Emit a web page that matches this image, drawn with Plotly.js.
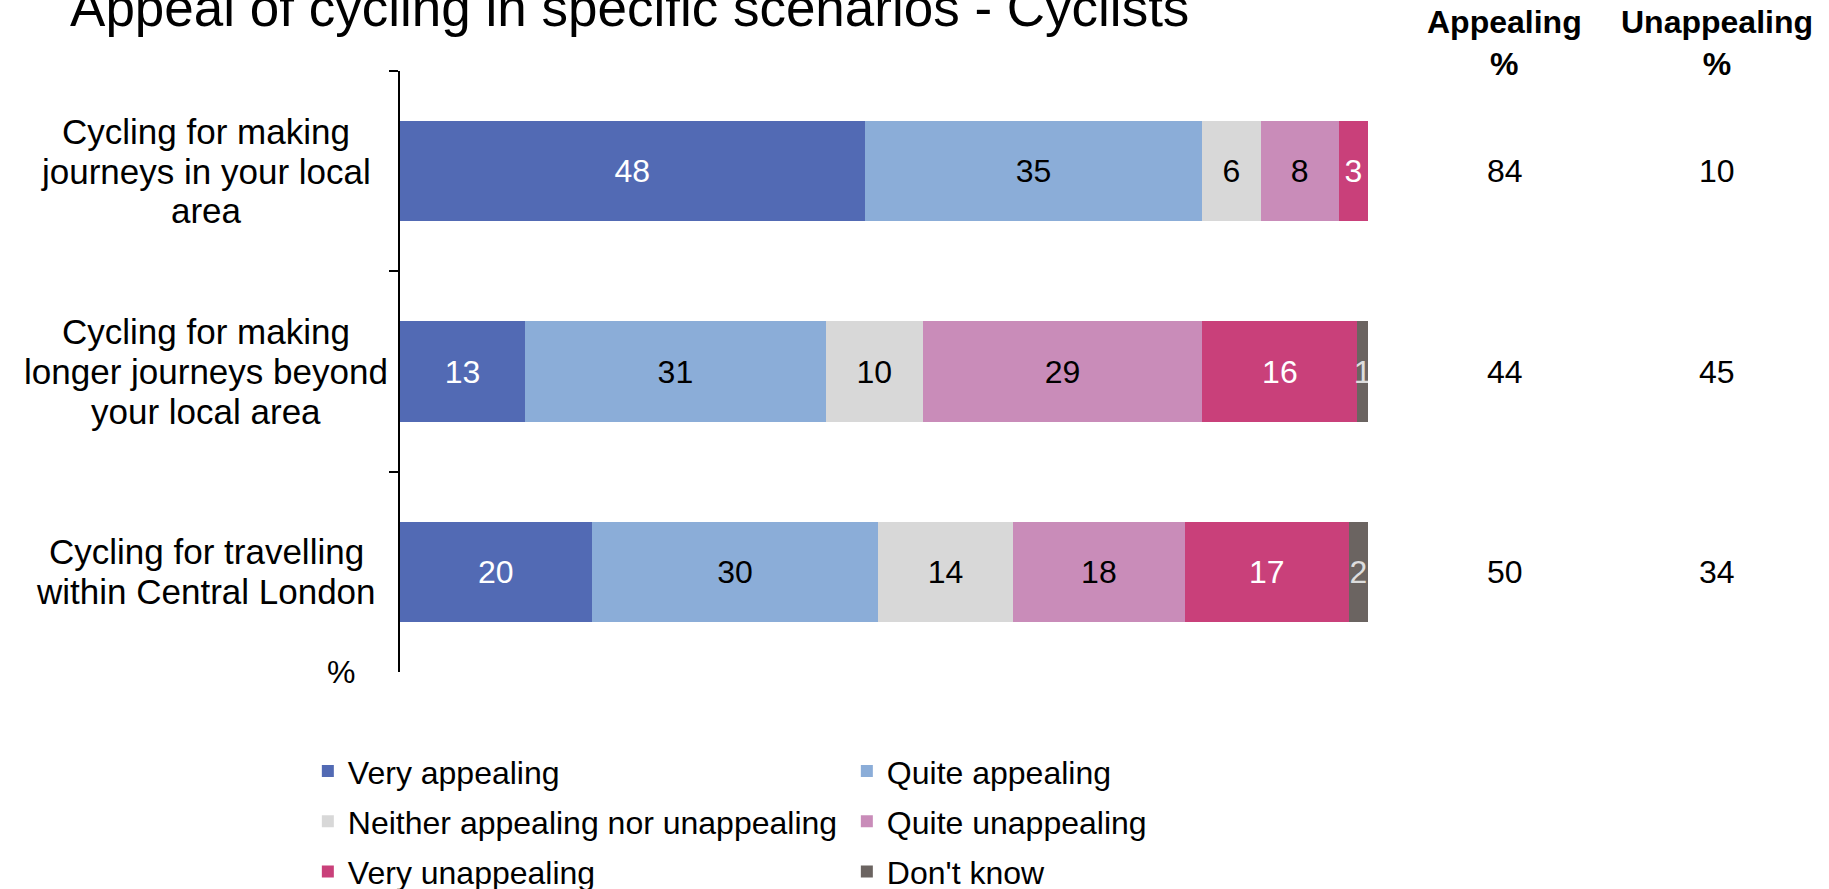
<!DOCTYPE html>
<html>
<head>
<meta charset="utf-8">
<script src="https://cdn.plot.ly/plotly-3.0.1.min.js"></script>
<style>
  html, body { margin: 0; padding: 0; background: #fff; }
  #chart { width: 1829px; height: 889px; }
</style>
</head>
<body>
<div id="chart"></div>
<script>
const categories = [
  'Cycling for making<br>journeys in your local<br>area',
  'Cycling for making<br>longer journeys beyond<br>your local area',
  'Cycling for travelling<br>within Central London'
]
const veryAppealing = [48, 12.9, 19.8]
const quiteAppealing = [34.9, 31.1, 29.6]
const neither = [6.0, 10.0, 13.9]
const quiteUnappealing = [8.1, 28.9, 17.8]
const veryUnappealing = [3.0, 16.0, 16.9]
const dontKnow = [null, 1.1, 2.0]
const appealingTotal = [84, 44, 50]
const unappealingTotal = [10, 45, 34]

const FONT = 'Liberation Sans, Arial, sans-serif'

function barTrace (name, values, color, textColor, legendId) {
  return {
    type: 'bar',
    orientation: 'h',
    name: name,
    y: categories,
    x: values,
    legend: legendId,
    marker: { color: color, line: { width: 0 } },
    texttemplate: '%{x:.0f}',
    textposition: 'inside',
    insidetextanchor: 'middle',
    textangle: 0,
    textfont: { color: textColor, size: 32, family: FONT },
    hoverinfo: 'skip'
  }
}

var data = [
  barTrace('Very appealing', veryAppealing, '#526AB4', '#ffffff', 'legend'),
  barTrace('Quite appealing', quiteAppealing, '#8BADD8', '#000000', 'legend'),
  barTrace('Neither appealing nor unappealing', neither, '#D8D8D8', '#000000', 'legend2'),
  barTrace('Quite unappealing', quiteUnappealing, '#C98CB9', '#000000', 'legend2'),
  barTrace('Very unappealing', veryUnappealing, '#C9407A', '#ffffff', 'legend3'),
  barTrace("Don't know", dontKnow, '#6B6461', '#dddddd', 'legend3')
]

// category labels: one annotation per line so the line spacing can be tightened
var annotations = []
const LINE_STEP = 39.7
categories.forEach(function (c, i) {
  var lines = c.split('<br>')
  lines.forEach(function (line, j) {
    annotations.push({
      xref: 'paper', yref: 'y', x: -0.2004, y: c,
      yshift: ((lines.length - 1) / 2 - j) * LINE_STEP,
      text: line, showarrow: false,
      xanchor: 'center', yanchor: 'middle',
      font: { size: 35, color: '#000', family: FONT }
    })
  })
  annotations.push({
    xref: 'paper', yref: 'y', x: 1.1415, y: c,
    text: String(appealingTotal[i]), showarrow: false,
    xanchor: 'center', yanchor: 'middle',
    font: { size: 32, color: '#000', family: FONT }
  })
  annotations.push({
    xref: 'paper', yref: 'y', x: 1.3605, y: c,
    text: String(unappealingTotal[i]), showarrow: false,
    xanchor: 'center', yanchor: 'middle',
    font: { size: 32, color: '#000', family: FONT }
  })
})
annotations.push({
  xref: 'paper', yref: 'paper', x: 1.1415, y: 1.0458,
  text: '<b>Appealing</b><br><b>%</b>', showarrow: false, align: 'center',
  xanchor: 'center', yanchor: 'middle',
  font: { size: 32, color: '#000', family: FONT }
})
annotations.push({
  xref: 'paper', yref: 'paper', x: 1.3605, y: 1.0458,
  text: '<b>Unappealing</b><br><b>%</b>', showarrow: false, align: 'center',
  xanchor: 'center', yanchor: 'middle',
  font: { size: 32, color: '#000', family: FONT }
})
annotations.push({
  xref: 'paper', yref: 'paper', x: -0.061, y: 0,
  text: '%', showarrow: false,
  xanchor: 'center', yanchor: 'middle',
  font: { size: 32, color: '#000', family: FONT }
})

function legendRow (y) {
  return {
    orientation: 'h',
    x: -0.0952,
    xanchor: 'left',
    y: y,
    yanchor: 'top',
    entrywidthmode: 'pixels',
    entrywidth: 494,
    font: { size: 32, color: '#000', family: FONT },
    traceorder: 'normal',
    borderwidth: 0,
    bgcolor: 'rgba(0,0,0,0)'
  }
}

var layout = {
  width: 1829,
  height: 889,
  barmode: 'stack',
  bargap: 0.5,
  showlegend: true,
  paper_bgcolor: '#ffffff',
  plot_bgcolor: '#ffffff',
  font: { family: FONT, size: 32, color: '#000' },
  title: {
    text: 'Appeal of cycling in specific scenarios - Cyclists',
    font: { size: 53, color: '#000', family: FONT },
    xref: 'container', yref: 'container',
    x: 0.0383, xanchor: 'left',
    y: 0.9708, yanchor: 'bottom'
  },
  margin: { l: 400, r: 461, t: 71, b: 217, autoexpand: false },
  xaxis: {
    range: [0, 100],
    visible: false,
    fixedrange: true
  },
  yaxis: {
    autorange: 'reversed',
    showticklabels: false,
    showline: true,
    linecolor: '#000',
    linewidth: 2,
    ticks: 'outside',
    tickson: 'boundaries',
    ticklen: 9,
    tickwidth: 2,
    tickcolor: '#000',
    showgrid: false,
    zeroline: false,
    fixedrange: true
  },
  uniformtext: { mode: 'show', minsize: 32 },
  legend: legendRow(-0.1195),
  legend2: legendRow(-0.203),
  legend3: legendRow(-0.2865),
  annotations: annotations
}

Plotly.newPlot('chart', data, layout, { displayModeBar: false, staticPlot: true })
</script>
</body>
</html>
